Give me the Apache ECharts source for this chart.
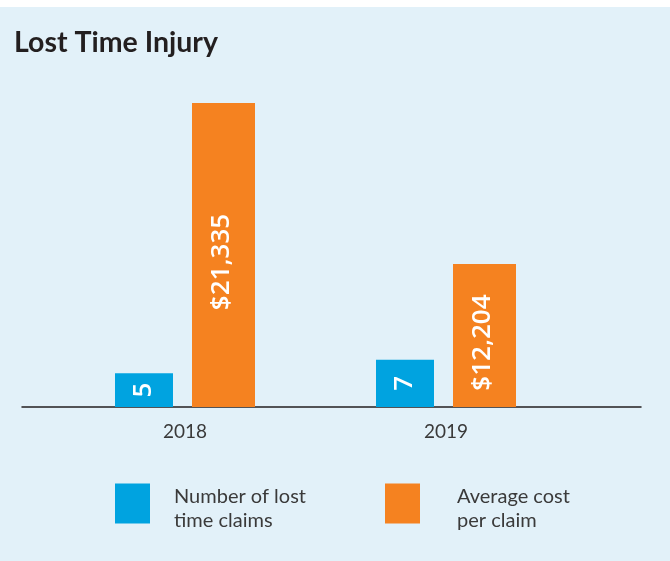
<!DOCTYPE html>
<html><head><meta charset="utf-8">
<script src="https://cdn.jsdelivr.net/npm/echarts@6/dist/echarts.min.js"></script>
<style>html,body{margin:0;padding:0;background:#fff;}#c{position:absolute;left:0;top:7px;width:670px;height:554px;}</style>
</head><body><div id="c"></div>
<script>
const titleText = 'Lost Time Injury';
const categories = ['2018', '2019'];
const claimCounts = [5, 7];
const avgCosts = [21335, 12204];
const seriesNames = ['Number of lost\ntime claims', 'Average cost\nper claim'];
const colors = ['#00a3e0', '#f58220'];

const chart = echarts.init(document.getElementById('c'));
const txt = '#3a3a3a';
function legendFor(i, left, gap) {
  return {
    data: [seriesNames[i]],
    left: left, top: 472, padding: 0,
    icon: 'rect', itemWidth: 35, itemHeight: 40,
    selectedMode: false,
    formatter: name => '{s| }\n' + name.split('\n').map(l => '{t|' + l + '}').join('\n'),
    textStyle: {
      padding: [0, 0, 0, gap],
      rich: {
        s: { fontSize: 1, lineHeight: 10 },
        t: { fontFamily: 'Lato', fontSize: 20, color: txt, lineHeight: 24 }
      }
    }
  };
}
chart.setOption({
  backgroundColor: '#e2f1f9',
  animation: false,
  title: {
    text: titleText, left: 9, top: 16,
    textStyle: { fontFamily: 'Lato', fontWeight: 'bold', fontSize: 28.5, color: '#231f20' }
  },
  legend: [legendFor(0, 115, 19), legendFor(1, 385, 32)],
  grid: [
    { left: 54.5, width: 522, top: 96, bottom: 154 },
    { left: 22, right: 29, top: 96, bottom: 154 }
  ],
  xAxis: [
    { gridIndex: 0, type: 'category', data: categories,
      axisLine: { show: false }, axisTick: { show: false },
      axisLabel: { margin: 15, fontFamily: 'Lato', fontSize: 19, color: txt } },
    { gridIndex: 1, type: 'value', min: 0, max: 1,
      axisLine: { show: true, lineStyle: { color: '#231f20', width: 1.5 } },
      axisTick: { show: false }, axisLabel: { show: false }, splitLine: { show: false } }
  ],
  yAxis: [
    { gridIndex: 0, type: 'value', min: 0, max: 45, show: false },
    { gridIndex: 0, type: 'value', min: 4100, max: 21335, show: false },
    { gridIndex: 1, type: 'value', show: false }
  ],
  series: [
    { name: seriesNames[0], type: 'bar', xAxisIndex: 0, yAxisIndex: 0, data: claimCounts,
      barWidth: 58, barGap: '32.76%', z: 3,
      itemStyle: { color: colors[0] },
      label: { show: true, position: 'inside', rotate: 90, fontFamily: 'Open Sans', fontWeight: 600, fontSize: 26, color: '#fff' } },
    { name: seriesNames[1], type: 'bar', xAxisIndex: 0, yAxisIndex: 1, data: avgCosts,
      barWidth: 63, z: 3,
      itemStyle: { color: colors[1] },
      label: { show: true, position: 'inside', rotate: 90, offset: [-7, -2], fontFamily: 'Open Sans', fontWeight: 600, fontSize: 26, color: '#fff',
        formatter: p => '$' + p.value.toLocaleString('en-US') } }
  ]
});
</script></body></html>
